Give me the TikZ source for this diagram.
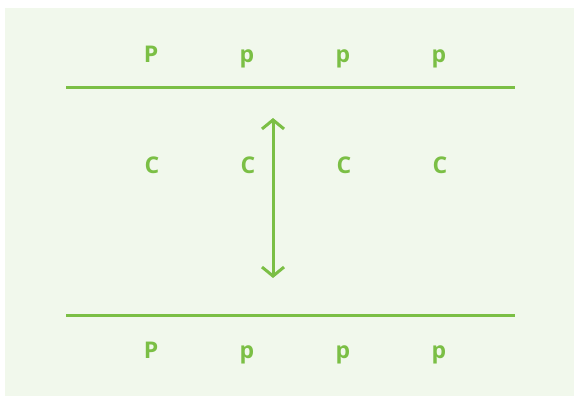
\documentclass[tikz,border=0pt]{standalone}
\usepackage{fontspec}
\setmainfont{Open Sans}
\usetikzlibrary{arrows.meta}
\definecolor{gr}{HTML}{7BBF45}
\definecolor{bg}{HTML}{F1F8EC}
\begin{document}
\begin{tikzpicture}[x=1pt,y=-1pt,
  lbl/.style={text=gr,font=\bfseries\fontsize{23}{26}\selectfont,inner sep=0pt,anchor=base},
  rail/.style={draw=gr,line width=3pt},
  arr/.style={draw=gr,line width=3pt,{Straight Barb[length=9pt,width=22pt,line width=3pt]}-{Straight Barb[length=9pt,width=22pt,line width=3pt]}}]
\useasboundingbox (0,0) rectangle (574,396);
\fill[bg] (5,8) rectangle (574,396);
\coordinate (t1) at (66,88); \coordinate (t2) at (515,88);
\coordinate (b1) at (66,315); \coordinate (b2) at (515,315);
\coordinate (a1) at (273,118); \coordinate (a2) at (273,278);
\draw[rail] (t1) -- (t2);
\draw[rail] (b1) -- (b2);
\draw[arr] (a1) -- (a2);
\node[lbl] (p1) at (151,63) {P};
\node[lbl] (p2) at (247,63) {p};
\node[lbl] (p3) at (343,63) {p};
\node[lbl] (p4) at (439,63) {p};
\node[lbl] (c1) at (152,174) {C};
\node[lbl] (c2) at (248,174) {C};
\node[lbl] (c3) at (344,174) {C};
\node[lbl] (c4) at (440,174) {C};
\node[lbl] (q1) at (151,358) {P};
\node[lbl] (q2) at (247,358) {p};
\node[lbl] (q3) at (343,358) {p};
\node[lbl] (q4) at (439,358) {p};
\end{tikzpicture}
\end{document}
